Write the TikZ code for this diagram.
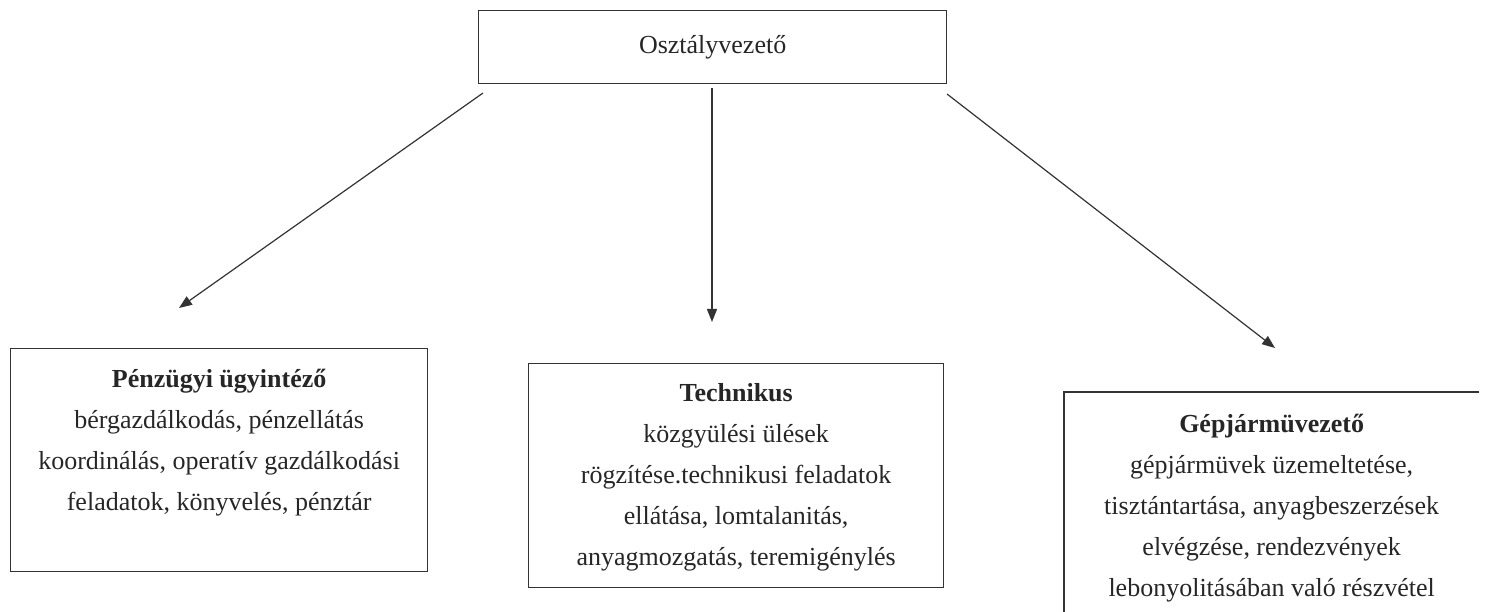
\documentclass[tikz,border=0pt]{standalone}
\usepackage{fontspec}
\setmainfont{Liberation Serif}
\usetikzlibrary{arrows.meta, positioning}

\begin{document}
\begin{tikzpicture}[
    x=1pt, y=-1pt,
    every node/.style={font=\fontsize{26}{41}\selectfont, text=black!85},
    frame/.style={draw=black!80, line width=1.3pt, inner sep=0pt, anchor=north west},
    duty/.style={align=center, inner sep=0pt},
    link/.style={draw=black!80, line width=1.2pt, -{Triangle[length=13pt, width=10pt]}}
]

% Canvas
\useasboundingbox (0,0) rectangle (1486,612);
\clip (0,0) rectangle (1486,612);

% Head of department
\node[frame, minimum width=468pt, minimum height=73pt] (head) at (478,10) {\raisebox{-4pt}{Osztályvezető}};

% Unit frames
\node[frame, minimum width=417pt, minimum height=223pt] (fin) at (10,348) {};
\node[frame, minimum width=415pt, minimum height=224pt] (tech) at (528,363) {};
\node[frame, draw=none, minimum width=414pt, minimum height=260pt] (drv) at (1064,392) {};
\draw[black!80, line width=1.3pt] (drv.north east) -- (drv.north west) -- (drv.south west);

% Unit texts
\node[duty, below=11pt of fin.north] (fin-text) {\strut\textbf{Pénzügyi ügyintéző}\\
    bérgazdálkodás, pénzellátás\\
    koordinálás, operatív gazdálkodási\\
    feladatok, könyvelés, pénztár};
\node[duty, below=10pt of tech.north] (tech-text) {\strut\textbf{Technikus}\\
    közgyülési ülések\\
    rögzítése.technikusi feladatok\\
    ellátása, lomtalanitás,\\
    anyagmozgatás, teremigénylés};
\node[duty, below=12pt of drv.north] (drv-text) {\strut\textbf{Gépjármüvezető}\\
    gépjármüvek üzemeltetése,\\
    tisztántartása, anyagbeszerzések\\
    elvégzése, rendezvények\\
    lebonyolitásában való részvétel};

% Arrow ends
\coordinate (fin-from) at (483,93);
\coordinate (fin-to) at (179,308);
\coordinate (tech-from) at (712,88);
\coordinate (tech-to) at (712,322);
\coordinate (drv-from) at (947,94);
\coordinate (drv-to) at (1275,348);

\foreach \unit in {fin, tech, drv} {
    \draw[link] (\unit-from) -- (\unit-to);
}

\end{tikzpicture}
\end{document}
